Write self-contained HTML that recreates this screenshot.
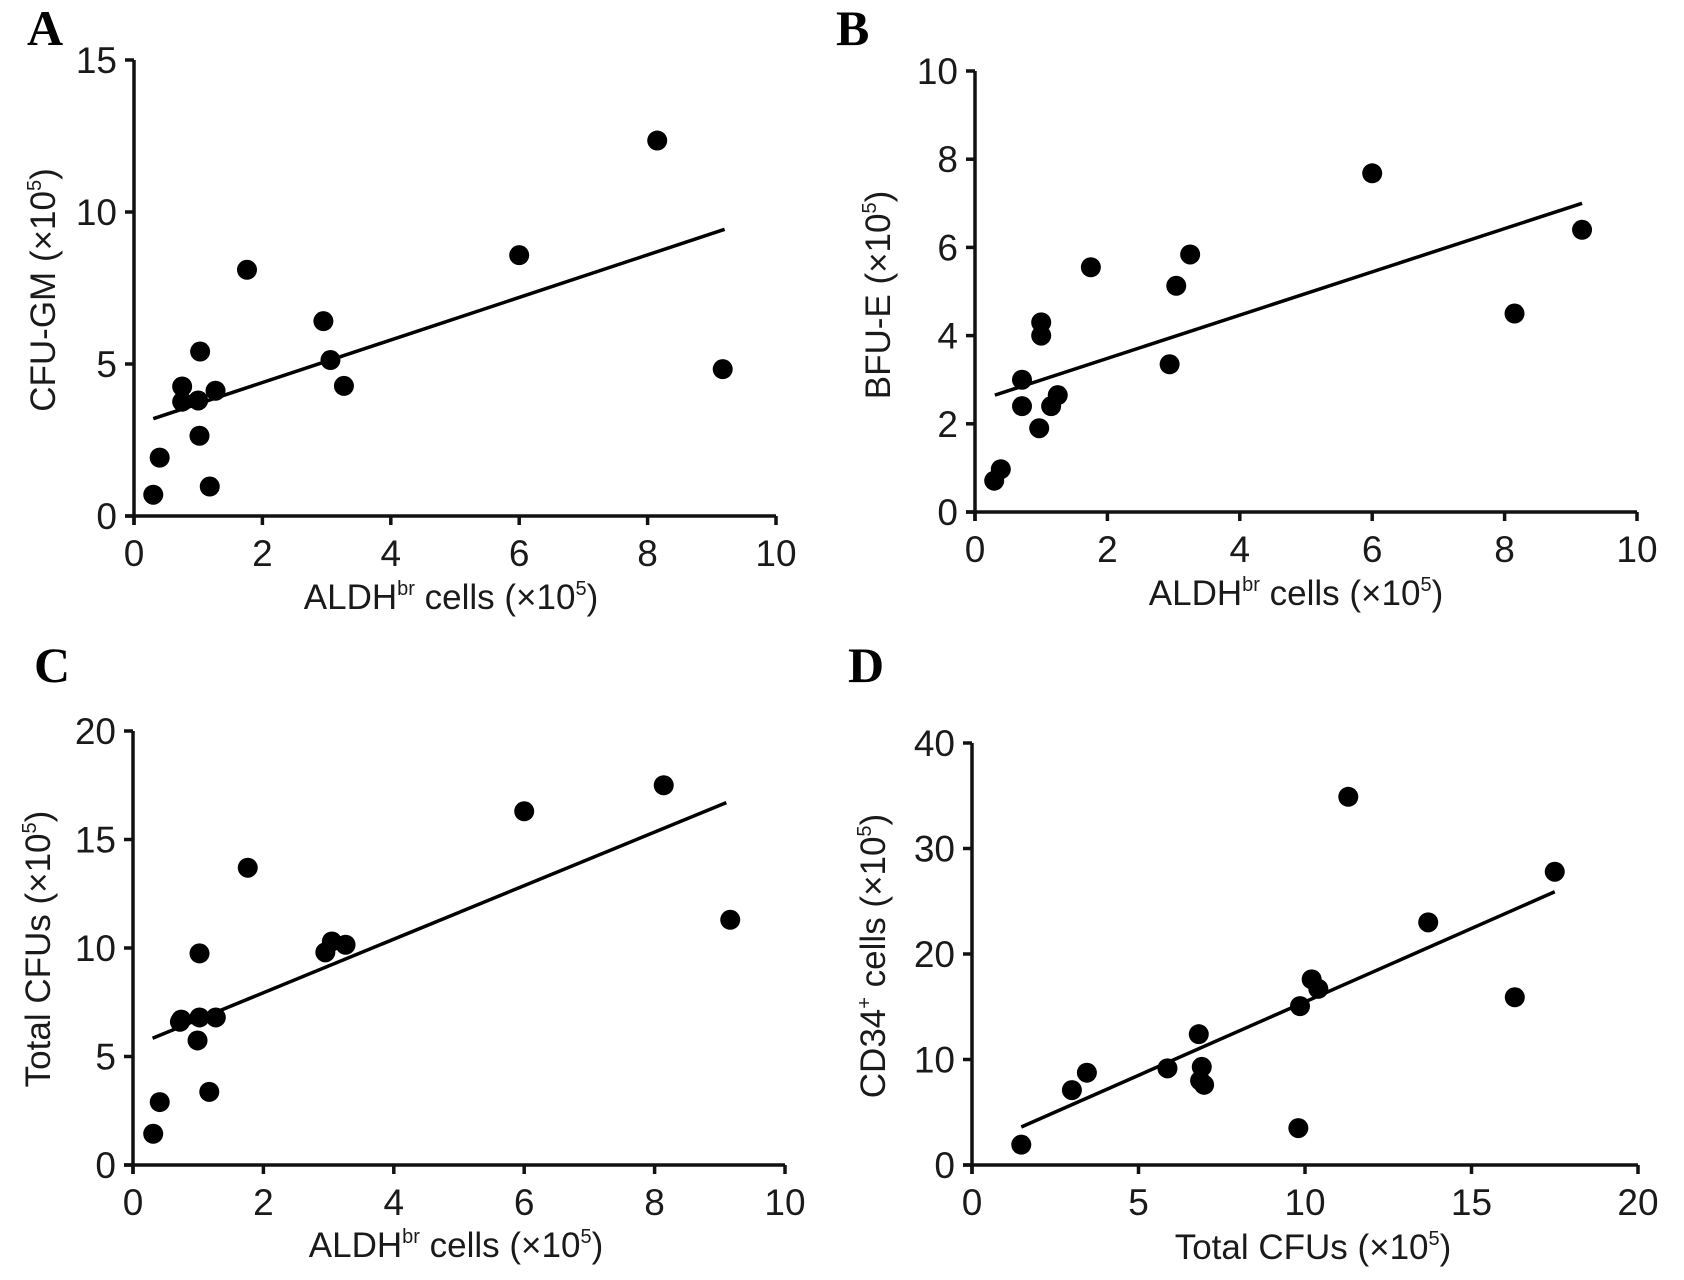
<!DOCTYPE html>
<html><head><meta charset="utf-8"><style>
html,body{margin:0;padding:0;background:#fff;}
svg{display:block;}
text{font-family:"Liberation Sans",Arial,sans-serif;fill:#1a1a1a;}
.lab{font-family:"Liberation Serif","Times New Roman",serif;font-weight:bold;font-size:50px;fill:#000;}
</style></head><body>
<svg id="fig" width="1684" height="1280" viewBox="0 0 1684 1280" xmlns="http://www.w3.org/2000/svg"></svg>
<script>
const aldhX = [0.3,0.4,0.75,0.75,1.0,1.03,1.02,1.18,1.27,1.76,2.95,3.06,3.27,6.0,8.15,9.17];
const cfuGM = [0.7,1.92,4.26,3.76,3.8,5.41,2.64,0.97,4.12,8.1,6.41,5.13,4.28,8.58,12.35,4.83];
const aldhXB = [0.29,0.39,0.71,0.71,0.97,1.0,1.0,1.15,1.25,1.75,2.94,3.04,3.25,6.0,8.15,9.17];
const bfuE = [0.71,0.97,3.0,2.4,1.9,4.0,4.3,2.4,2.65,5.55,3.35,5.13,5.84,7.68,4.5,6.4];
const aldhXC = [0.31,0.41,0.74,0.72,0.99,1.02,1.02,1.17,1.27,1.76,2.95,3.05,3.26,6.0,8.14,9.16];
const totalCFU = [1.44,2.9,6.7,6.6,5.74,6.8,9.75,3.37,6.8,13.7,9.8,10.3,10.15,16.3,17.5,11.3];
const cfuD = [1.48,3.0,3.45,5.87,6.81,6.9,6.97,6.85,9.8,9.85,10.2,10.4,11.3,13.7,16.3,17.5];
const cd34 = [1.93,7.1,8.75,9.16,12.4,9.3,7.6,8.0,3.5,15.06,17.6,16.7,34.9,23.0,15.9,27.8];
const fitA = [[0.3,3.2],[9.2,9.43]];
const fitB = [[0.3,2.65],[9.17,7.0]];
const fitC = [[0.3,5.84],[9.1,16.7]];
const fitD = [[1.48,3.6],[17.5,25.9]];
const xTicksA = [0,2,4,6,8,10];
const yTicksA = [0,5,10,15];
const yTicksB = [0,2,4,6,8,10];
const yTicksC = [0,5,10,15,20];
const xTicksD = [0,5,10,15,20];
const yTicksD = [0,10,20,30,40];

const NS="http://www.w3.org/2000/svg";
const svg=document.getElementById('fig');
function mk(tag,attrs,parent){const e=document.createElementNS(NS,tag);for(const k in attrs)e.setAttribute(k,attrs[k]);(parent||svg).appendChild(e);return e;}

function panel(o){
  const g=mk('g',{});
  
  
  const sx=v=>o.x0+(v-o.xmin)/(o.xmax-o.xmin)*(o.x1-o.x0);
  const sy=v=>o.y0-(v-o.ymin)/(o.ymax-o.ymin)*(o.y0-o.y1);
  const L=mk('text',{x:o.lx,y:o.ly,class:'lab'},g);L.textContent=o.id.toUpperCase();
  
  
  const ya=mk('line',{x1:o.x0,y1:o.y1,x2:o.x0,y2:o.y0+9,stroke:'#111','stroke-width':3.5},g);
  
  
  const xa=mk('line',{x1:o.x0-9,y1:o.y0,x2:o.x1,y2:o.y0,stroke:'#111','stroke-width':3.5},g);
  
  
  o.yt.forEach(v=>{
    mk('line',{x1:o.x0-9,y1:sy(v),x2:o.x0,y2:sy(v),stroke:'#111','stroke-width':3.5},g);
    const t=mk('text',{x:o.x0-17,y:sy(v)+13,'text-anchor':'end','font-size':37},g);t.textContent=v;
    
    
  });
  o.xt.forEach(v=>{
    mk('line',{x1:sx(v),y1:o.y0,x2:sx(v),y2:o.y0+9,stroke:'#111','stroke-width':3.5},g);
    const t=mk('text',{x:sx(v),y:o.y0+50,'text-anchor':'middle','font-size':37},g);t.textContent=v;
    
    
  });
  const xt=mk('text',{x:o.xtx,y:o.xty,'text-anchor':'middle','font-size':35},g);xt.innerHTML=o.xtitle;
  
  
  const yt=mk('text',{x:0,y:0,'text-anchor':'middle','font-size':35,transform:`translate(${o.ytx},${o.yty}) rotate(-90)`},g);yt.innerHTML=o.ytitle;
  
  
  const fl=mk('line',{x1:sx(o.fit[0][0]),y1:sy(o.fit[0][1]),x2:sx(o.fit[1][0]),y2:sy(o.fit[1][1]),stroke:'#000','stroke-width':3.5},g);
  
  
  o.xs.forEach((v,i)=>{
    const c=mk('circle',{cx:sx(v),cy:sy(o.ys[i]),r:10,fill:'#000'},g);
    
    
  });
}
const sup=s=>`<tspan dy="-14" font-size="20">${s}</tspan><tspan dy="14">`;
const aldhT=`ALDH${sup('br')} cells (×10${sup('5')})</tspan></tspan>`;
panel({id:'a',x0:134,x1:776,y0:516,y1:60,xmin:0,xmax:10,ymin:0,ymax:15,xt:xTicksA,yt:yTicksA,xs:aldhX,ys:cfuGM,fit:fitA,
  lx:27,ly:45,xtx:451,xty:609,ytx:55,yty:290,xtitle:aldhT,ytitle:`CFU-GM (×10${sup('5')})</tspan>`});
panel({id:'b',x0:975,x1:1637,y0:512,y1:71,xmin:0,xmax:10,ymin:0,ymax:10,xt:xTicksA,yt:yTicksB,xs:aldhXB,ys:bfuE,fit:fitB,
  lx:836,ly:45,xtx:1296,xty:605,ytx:890,yty:295,xtitle:aldhT,ytitle:`BFU-E (×10${sup('5')})</tspan>`});
panel({id:'c',x0:133,x1:785,y0:1165,y1:731,xmin:0,xmax:10,ymin:0,ymax:20,xt:xTicksA,yt:yTicksC,xs:aldhXC,ys:totalCFU,fit:fitC,
  lx:34,ly:682,xtx:456,xty:1257,ytx:50,yty:949,xtitle:aldhT,ytitle:`Total CFUs (×10${sup('5')})</tspan>`});
panel({id:'d',x0:972,x1:1638,y0:1165,y1:743,xmin:0,xmax:20,ymin:0,ymax:40,xt:xTicksD,yt:yTicksD,xs:cfuD,ys:cd34,fit:fitD,
  lx:848,ly:682,xtx:1313,xty:1259,ytx:885,yty:956,xtitle:`Total CFUs (×10${sup('5')})</tspan>`,ytitle:`CD34${sup('+')} cells (×10${sup('5')})</tspan></tspan>`});
</script>
</body></html>
